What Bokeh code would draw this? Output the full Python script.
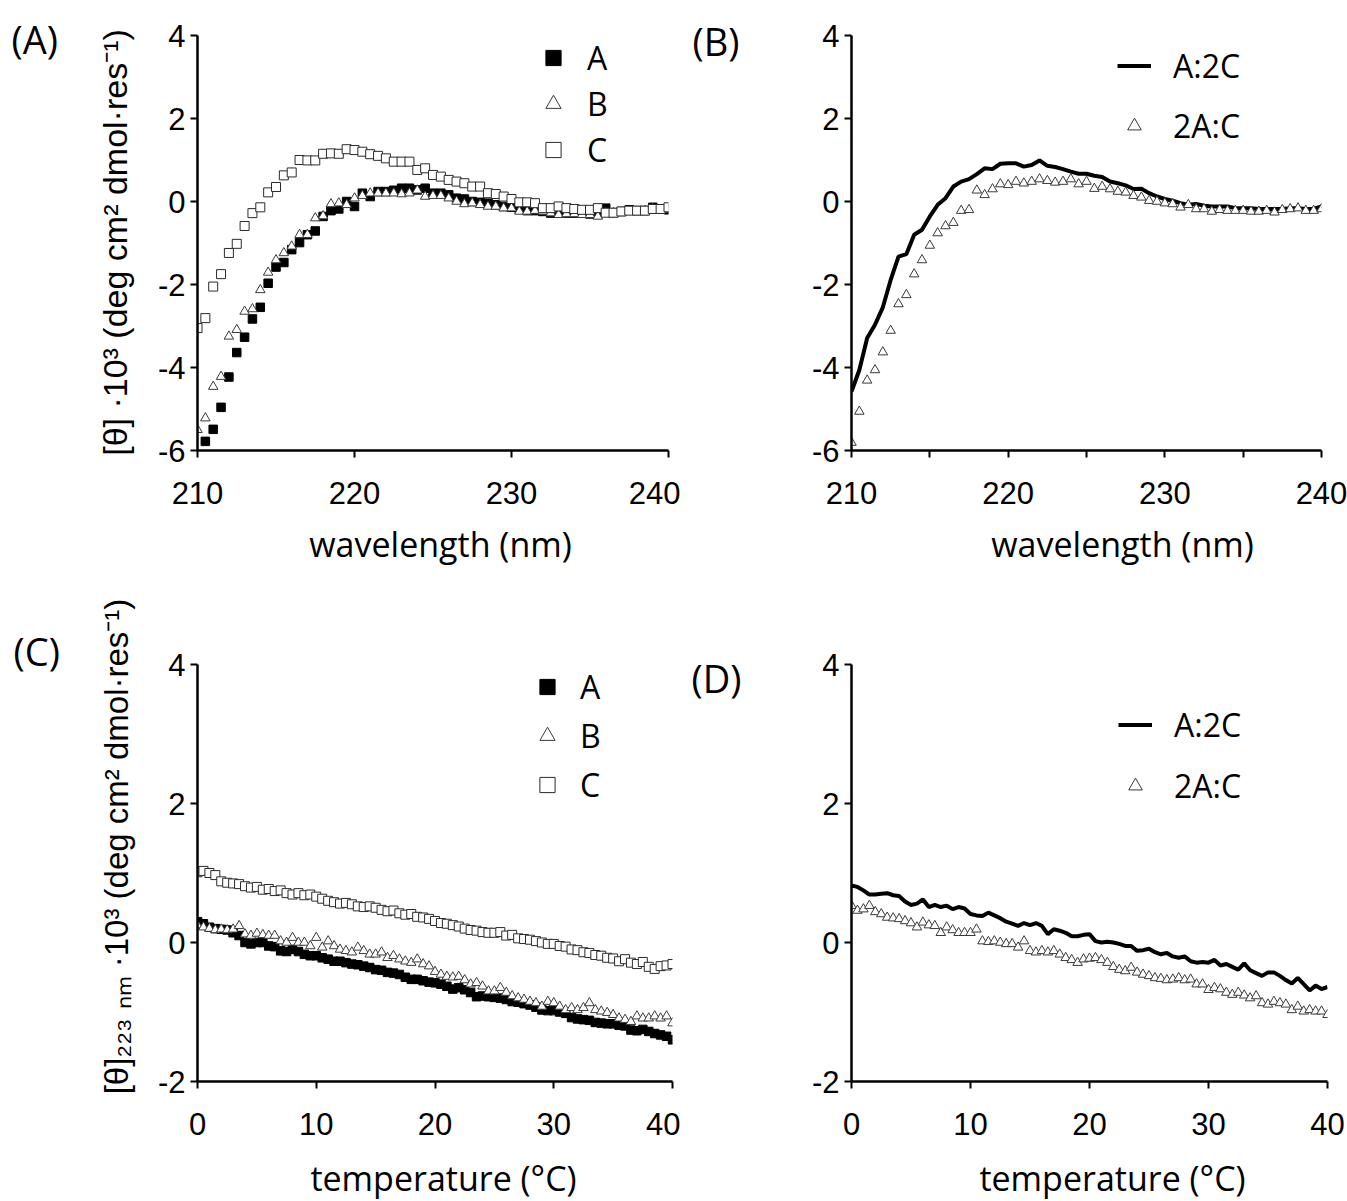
import math
import numpy as np
from bokeh.plotting import figure
from bokeh.models import Range1d, FixedTicker, Legend, LegendItem
from bokeh.core.properties import value
from bokeh.layouts import gridplot
from bokeh.embed import file_html
from bokeh.resources import INLINE

# ---------------- data ----------------
wavelength = np.arange(210.0, 240.01, 0.5)     # 61 points, 210..240 nm
temperature = np.arange(0.0, 40.01, 0.5)       # 81 points, 0..40 C

# (A) wavelength scans, single peptides
spec_A = [-5.78, -5.49, -4.96, -4.23, -3.64, -3.27, -2.83, -2.55, -1.97, -1.58,
          -1.47, -1.16, -0.99, -0.80, -0.71, -0.36, -0.22, -0.18, 0.00, -0.12,
          0.20, 0.12, 0.24, 0.24, 0.27, 0.32, 0.32, 0.28, 0.32, 0.20,
          0.20, 0.16, 0.08, 0.06, 0.00, -0.02, -0.04, -0.08, -0.12, -0.14,
          -0.18, -0.22, -0.22, -0.24, -0.28, -0.28, -0.28, -0.28, -0.28, -0.30,
          -0.28, -0.16, -0.27, -0.24, -0.20, -0.22, -0.22, -0.14, -0.18, -0.20]   # from 210.5 nm
spec_B = [-5.50, -5.22, -4.46, -4.22, -3.25, -3.09, -2.65, -2.59, -2.13, -1.71,
          -1.41, -1.24, -1.08, -0.80, -0.80, -0.40, -0.35, -0.06, -0.04, -0.08,
          0.08, 0.14, 0.20, 0.20, 0.20, 0.20, 0.18, 0.20, 0.27, 0.12,
          0.14, 0.14, 0.08, 0.00, -0.06, -0.04, -0.08, -0.12, -0.12, -0.16,
          -0.16, -0.24, -0.24, -0.22, -0.24, -0.28, -0.32, -0.30, -0.30, -0.32,
          -0.32, -0.36, -0.28, -0.27, -0.27, -0.24, -0.24, -0.22, -0.18, -0.20, -0.20]
spec_C = [-3.05, -2.81, -2.05, -1.75, -1.24, -1.02, -0.59, -0.28, -0.14, 0.22,
          0.35, 0.63, 0.70, 1.00, 0.99, 0.99, 1.15, 1.16, 1.15, 1.26,
          1.24, 1.20, 1.14, 1.10, 1.04, 0.96, 0.96, 0.96, 0.76, 0.80,
          0.64, 0.60, 0.52, 0.48, 0.44, 0.36, 0.36, 0.20, 0.18, 0.12,
          0.06, -0.02, -0.02, -0.04, -0.16, -0.16, -0.12, -0.16, -0.18, -0.20,
          -0.20, -0.16, -0.27, -0.27, -0.24, -0.22, -0.22, -0.22, -0.18, -0.18, -0.14]

# (B) wavelength scans, mixtures
spec_A2C = [-4.58, -4.06, -3.29, -2.97, -2.55, -1.89, -1.33, -1.27, -0.80, -0.68,
            -0.36, -0.08, 0.08, 0.36, 0.48, 0.54, 0.66, 0.80, 0.78, 0.91,
            0.92, 0.92, 0.84, 0.88, 0.99, 0.86, 0.83, 0.78, 0.72, 0.67,
            0.67, 0.62, 0.59, 0.48, 0.44, 0.39, 0.30, 0.31, 0.20, 0.12,
            0.06, 0.02, -0.04, -0.08, -0.06, -0.10, -0.12, -0.12, -0.12, -0.16,
            -0.16, -0.16, -0.18, -0.18, -0.18, -0.18, -0.16, -0.16, -0.18, -0.18, -0.12]
spec_2AC = [-5.81, -5.06, -4.31, -4.06, -3.63, -3.11, -2.47, -2.25, -1.75, -1.41,
            -1.06, -0.76, -0.59, -0.51, -0.22, -0.20, 0.27, 0.16, 0.30, 0.42,
            0.40, 0.48, 0.44, 0.48, 0.54, 0.50, 0.46, 0.48, 0.54, 0.42,
            0.48, 0.31, 0.36, 0.30, 0.24, 0.22, 0.14, 0.10, 0.02, 0.00,
            -0.04, -0.06, -0.14, -0.08, -0.18, -0.18, -0.24, -0.20, -0.22, -0.22,
            -0.22, -0.24, -0.24, -0.22, -0.26, -0.20, -0.18, -0.16, -0.22, -0.22, -0.18]

# (C) thermal scans at 223 nm, single peptides
melt_A = [0.30, 0.27, 0.22, 0.20, 0.19, 0.18, 0.14, 0.10, 0.00, -0.02,
          0.00, 0.00, -0.05, -0.06, -0.12, -0.13, -0.10, -0.13, -0.17, -0.19,
          -0.19, -0.22, -0.24, -0.27, -0.27, -0.29, -0.31, -0.32, -0.34, -0.36,
          -0.39, -0.40, -0.43, -0.44, -0.46, -0.50, -0.53, -0.53, -0.55, -0.57,
          -0.58, -0.60, -0.63, -0.67, -0.65, -0.68, -0.72, -0.78, -0.77, -0.78,
          -0.79, -0.80, -0.82, -0.85, -0.86, -0.88, -0.90, -0.93, -0.97, -0.98,
          -0.98, -1.00, -1.02, -1.08, -1.10, -1.11, -1.12, -1.15, -1.16, -1.17,
          -1.17, -1.19, -1.20, -1.26, -1.27, -1.25, -1.28, -1.31, -1.33, -1.35, -1.40]
melt_B = [0.25, 0.22, 0.20, 0.18, 0.19, 0.18, 0.19, 0.24, 0.12, 0.10,
          0.13, 0.11, 0.10, 0.10, 0.02, 0.00, 0.07, 0.00, 0.00, -0.05,
          0.07, -0.07, 0.02, -0.05, -0.10, -0.12, -0.14, -0.07, -0.12, -0.17,
          -0.17, -0.14, -0.22, -0.19, -0.24, -0.27, -0.29, -0.24, -0.31, -0.34,
          -0.42, -0.46, -0.49, -0.50, -0.49, -0.54, -0.60, -0.58, -0.63, -0.70,
          -0.70, -0.65, -0.72, -0.77, -0.80, -0.82, -0.85, -0.87, -0.92, -0.85,
          -0.87, -0.92, -0.97, -0.94, -0.97, -0.94, -0.87, -0.97, -0.99, -1.01,
          -1.04, -1.09, -1.11, -1.14, -1.06, -1.09, -1.09, -1.06, -1.09, -1.06, -1.16]
melt_C = [1.01, 1.03, 1.00, 0.97, 0.88, 0.86, 0.85, 0.84, 0.81, 0.79,
          0.80, 0.76, 0.77, 0.74, 0.75, 0.71, 0.69, 0.71, 0.68, 0.69,
          0.66, 0.63, 0.60, 0.58, 0.56, 0.57, 0.55, 0.52, 0.51, 0.52,
          0.50, 0.47, 0.45, 0.46, 0.42, 0.40, 0.41, 0.37, 0.36, 0.34,
          0.31, 0.28, 0.27, 0.25, 0.23, 0.20, 0.18, 0.17, 0.15, 0.14,
          0.14, 0.15, 0.10, 0.11, 0.06, 0.05, 0.04, 0.02, 0.00, -0.02,
          -0.02, -0.05, -0.06, -0.10, -0.11, -0.14, -0.15, -0.18, -0.19, -0.22,
          -0.23, -0.27, -0.24, -0.29, -0.31, -0.28, -0.35, -0.38, -0.34, -0.33, -0.31]

# (D) thermal scans at 223 nm, mixtures
melt_A2C = [0.82, 0.80, 0.75, 0.69, 0.69, 0.70, 0.71, 0.68, 0.67, 0.59,
            0.54, 0.56, 0.62, 0.51, 0.54, 0.51, 0.53, 0.48, 0.51, 0.49,
            0.41, 0.39, 0.38, 0.43, 0.39, 0.35, 0.30, 0.27, 0.24, 0.28,
            0.25, 0.28, 0.24, 0.12, 0.19, 0.17, 0.14, 0.09, 0.09, 0.11,
            0.12, 0.02, 0.00, 0.01, 0.00, -0.02, -0.05, -0.05, -0.12, -0.11,
            -0.09, -0.14, -0.17, -0.15, -0.20, -0.22, -0.20, -0.27, -0.29, -0.28,
            -0.29, -0.25, -0.33, -0.31, -0.35, -0.39, -0.30, -0.40, -0.44, -0.48,
            -0.43, -0.43, -0.48, -0.54, -0.59, -0.51, -0.60, -0.69, -0.62, -0.67, -0.64]
melt_2AC = [0.53, 0.46, 0.48, 0.53, 0.44, 0.41, 0.36, 0.35, 0.34, 0.31,
            0.28, 0.22, 0.29, 0.25, 0.24, 0.14, 0.22, 0.18, 0.14, 0.14,
            0.14, 0.19, 0.02, 0.01, 0.02, 0.00, -0.02, -0.02, -0.07, 0.02,
            -0.12, -0.14, -0.12, -0.14, -0.12, -0.17, -0.22, -0.25, -0.29, -0.24,
            -0.23, -0.22, -0.25, -0.29, -0.35, -0.39, -0.41, -0.36, -0.43, -0.46,
            -0.48, -0.51, -0.52, -0.54, -0.53, -0.51, -0.54, -0.53, -0.60, -0.60,
            -0.68, -0.65, -0.67, -0.72, -0.75, -0.72, -0.76, -0.80, -0.77, -0.87,
            -0.89, -0.85, -0.87, -0.89, -0.97, -0.92, -0.99, -0.97, -0.99, -0.99, -1.04]

wl_ticks = [210, 220, 230, 240]
wl_ticks_fine = [210, 215, 220, 225, 230, 235, 240]
spec_yticks = [-6, -4, -2, 0, 2, 4]
temp_ticks = [0, 10, 20, 30, 40]
melt_yticks = [-2, 0, 2, 4]

ytitle_spec = "[θ] ·10³ (deg cm² dmol·res⁻¹)"
ytitle_melt = "[θ]₂₂₃ ₙₘ ·10³ (deg cm² dmol·res⁻¹)"
xtitle_spec = "wavelength (nm)"
xtitle_melt = "temperature (°C)"

TICK_FONT = "Liberation Sans"
TEXT_FONT = "Open Sans"


def make_fig(bl, fw, br, bt, fh, bb, xr, yr, xticks, yticks, overrides=None):
    p = figure(frame_width=fw, frame_height=fh,
               min_border_left=bl, min_border_right=br,
               min_border_top=bt, min_border_bottom=bb,
               x_range=Range1d(*xr), y_range=Range1d(*yr),
               output_backend="svg", toolbar_location=None, tools="")
    p.xgrid.visible = False
    p.ygrid.visible = False
    p.outline_line_color = None
    p.background_fill_color = "white"
    p.border_fill_color = "white"
    p.xaxis.ticker = FixedTicker(ticks=xticks)
    p.yaxis.ticker = FixedTicker(ticks=yticks)
    if overrides:
        p.xaxis.major_label_overrides = overrides
    p.yaxis.major_label_overrides = {t: str(t) for t in yticks if t < 0}
    for ax in (p.xaxis, p.yaxis):
        ax.axis_line_width = 2.5
        ax.axis_line_color = "black"
        ax.major_tick_line_width = 2
        ax.major_tick_line_color = "black"
        ax.major_tick_in = 0
        ax.major_tick_out = 7
        ax.minor_tick_line_color = None
        ax.major_label_text_font = TICK_FONT
        ax.major_label_text_font_size = "31px"
        ax.major_label_text_color = "black"
    p.xaxis.major_label_standoff = 24
    p.yaxis.major_label_standoff = 5
    return p


def add_text(p, dx, dy, text, size="32px", font=TEXT_FONT, angle=0.0, align="left"):
    # anchored at the frame's bottom-left corner, shifted by pixel offsets
    x0 = p.x_range.start
    y0 = p.y_range.start
    r = p.text(x=[x0], y=[y0], text=[text], x_offset=dx, y_offset=dy, angle=angle,
               text_font=value(font), text_font_size=value(size), text_color="black",
               text_align=align, text_baseline="alphabetic")
    r.level = "overlay"
    return r


def add_legend(p, items, vx, vy, gw, gh, spacing, standoff):
    leg = Legend(items=items, location=(vx, vy), orientation="vertical",
                 glyph_width=gw, glyph_height=gh, label_height=gh,
                 label_standoff=standoff, spacing=spacing, padding=0, margin=0,
                 border_line_color=None, background_fill_alpha=0,
                 label_text_font=TEXT_FONT, label_text_font_size="32px",
                 label_text_color="black")
    p.add_layout(leg)


def filled_sq(p, x, y):
    return p.scatter(x, y, marker="square", size=8.5, fill_color="black", line_color="black", line_width=1)


def open_tri(p, x, y):
    return p.scatter(x, y, marker="triangle", size=9.5, fill_color="white", line_color="#3a3a3a", line_width=1)


def open_sq(p, x, y):
    return p.scatter(x, y, marker="square", size=9, fill_color="white", line_color="#2a2a2a", line_width=1)


# ---------------- panel A ----------------
pA = make_fig(197, 471, 12, 35, 415, 130, (210, 240), (-6, 4), wl_ticks, spec_yticks)
rA = filled_sq(pA, wavelength[1:], spec_A)
rB = open_tri(pA, wavelength, spec_B)
rC = open_sq(pA, wavelength, spec_C)
add_legend(pA, [LegendItem(label="A", renderers=[rA]), LegendItem(label="B", renderers=[rB]),
                LegendItem(label="C", renderers=[rC])], 337, 279, 38, 41, 3, 15)
add_text(pA, -186, -412, "(A)", size="38px")
add_text(pA, -83, -208, ytitle_spec, size="34px", font=TICK_FONT, angle=math.pi / 2, align="center")
add_text(pA, 243, 93, xtitle_spec, size="34px", align="center")

# ---------------- panel B ----------------
pB = make_fig(170, 470, 27, 35, 415, 130, (210, 240), (-6, 4), wl_ticks_fine, spec_yticks,
              overrides={215: "", 225: "", 235: ""})
rL = pB.line(wavelength, spec_A2C, line_color="black", line_width=4)
rT = open_tri(pB, wavelength, spec_2AC)
add_legend(pB, [LegendItem(label="A:2C", renderers=[rL]), LegendItem(label="2A:C", renderers=[rT])],
           266, 303.5, 34, 41, 17, 22)
add_text(pB, -159, -410, "(B)", size="38px")
add_text(pB, 271, 93, xtitle_spec, size="34px", align="center")

# ---------------- panel C ----------------
pC = make_fig(195, 475, 10, 84, 417, 120, (0, 40), (-2, 4), temp_ticks, melt_yticks)
rC2 = open_sq(pC, temperature, melt_C)
rA2 = filled_sq(pC, temperature, melt_A)
rB2 = open_tri(pC, temperature, melt_B)
add_legend(pC, [LegendItem(label="A", renderers=[rA2]), LegendItem(label="B", renderers=[rB2]),
                LegendItem(label="C", renderers=[rC2])], 331, 275.5, 38, 41, 6, 14)
add_text(pC, -184, -431, "(C)", size="38px")
add_text(pC, -81, -235, ytitle_melt, size="33px", font=TICK_FONT, angle=math.pi / 2, align="center")
add_text(pC, 246, 96, xtitle_melt, size="34px", align="center")

# ---------------- panel D ----------------
pD = make_fig(171, 476, 20, 84, 417, 120, (0, 40), (-2, 4), temp_ticks, melt_yticks)
rL2 = pD.line(temperature, melt_A2C, line_color="black", line_width=4)
rT2 = open_tri(pD, temperature, melt_2AC)
add_legend(pD, [LegendItem(label="A:2C", renderers=[rL2]), LegendItem(label="2A:C", renderers=[rT2])],
           267, 274.5, 34, 41, 18, 22)
add_text(pD, -160, -404, "(D)", size="38px")
add_text(pD, 261, 96, xtitle_melt, size="34px", align="center")

grid = gridplot([[pA, pB], [pC, pD]], toolbar_location=None)

open("out.html", "w").write(file_html(grid, INLINE))
